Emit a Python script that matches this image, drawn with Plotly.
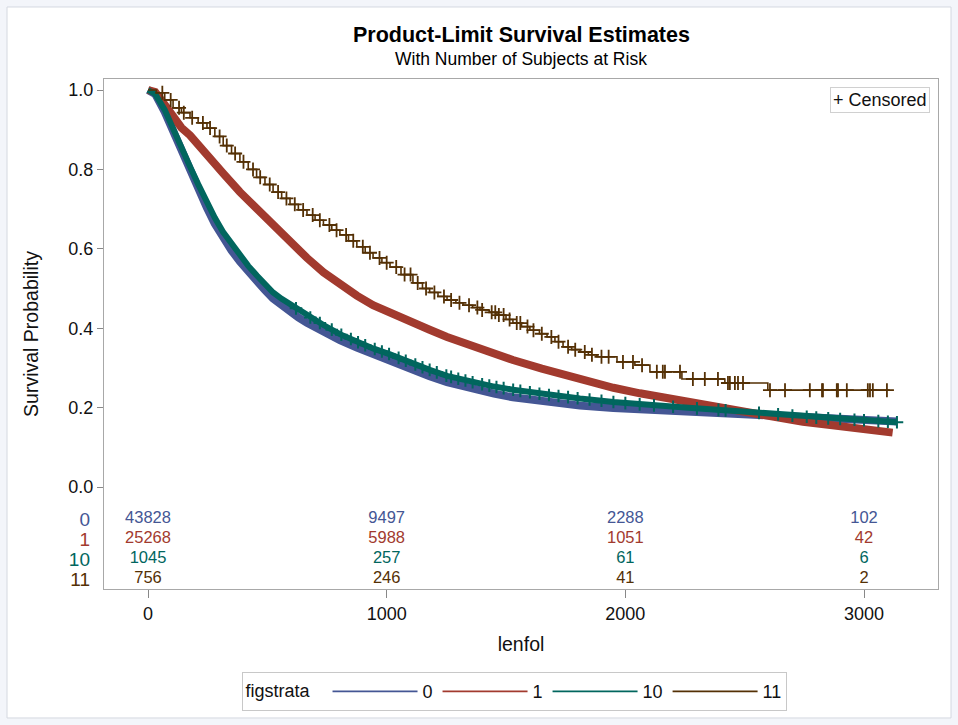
import numpy as np
import plotly.graph_objects as go

# ---------------- data ----------------
strata = ["0", "1", "10", "11"]
colors = ["#445694", "#A23A2E", "#01665E", "#543005"]

t0 = [0, 30, 70, 105, 140, 176, 210, 247, 280, 314, 350, 385, 420, 457, 490, 524, 560, 595,
      630, 666, 735, 804, 875, 943, 1014, 1100, 1180, 1253, 1350, 1450, 1529, 1650, 1810,
      1950, 2061, 2250, 2400, 2600, 2815, 3000, 3138]
s0 = [1.0, 0.99, 0.945, 0.895, 0.845, 0.795, 0.75, 0.703, 0.663, 0.627, 0.596, 0.568, 0.542,
      0.518, 0.496, 0.475, 0.457, 0.441, 0.427, 0.414, 0.391, 0.370, 0.351, 0.334, 0.318,
      0.297, 0.279, 0.264, 0.248, 0.235, 0.226, 0.215, 0.205, 0.199, 0.196, 0.190, 0.186,
      0.179, 0.173, 0.168, 0.165]

t1 = [0, 30, 70, 105, 140, 176, 210, 247, 315, 385, 455, 524, 595, 666, 735, 804, 875, 943,
      1014, 1100, 1180, 1253, 1350, 1450, 1529, 1650, 1810, 1950, 2061, 2250, 2396, 2500,
      2606, 2744, 2850, 2954, 3060, 3120]
s1 = [1.0, 0.995, 0.963, 0.932, 0.905, 0.886, 0.864, 0.841, 0.790, 0.743, 0.700, 0.660, 0.617,
      0.577, 0.541, 0.509, 0.482, 0.458, 0.438, 0.417, 0.396, 0.378, 0.357, 0.336, 0.320,
      0.298, 0.270, 0.250, 0.236, 0.216, 0.202, 0.190, 0.176, 0.164, 0.157, 0.149, 0.142,
      0.137]

t10 = [0, 30, 70, 105, 140, 176, 210, 247, 280, 314, 350, 385, 420, 457, 490, 524, 560, 595,
       630, 666, 735, 804, 875, 943, 1014, 1100, 1180, 1253, 1350, 1450, 1529, 1650, 1810,
       1950, 2061, 2250, 2400, 2600, 2815, 3000, 3138]
s10 = [1.0, 0.99, 0.95, 0.90, 0.855, 0.807, 0.763, 0.717, 0.678, 0.643, 0.612, 0.583, 0.557,
       0.532, 0.510, 0.490, 0.474, 0.460, 0.446, 0.432, 0.408, 0.385, 0.366, 0.349, 0.334,
       0.313, 0.295, 0.280, 0.265, 0.253, 0.245, 0.234, 0.223, 0.214, 0.208, 0.200, 0.194,
       0.185, 0.174, 0.168, 0.163]
c10 = [620, 680, 720, 770, 810, 850, 880, 910, 950, 980, 1010, 1050, 1080, 1120, 1150, 1180,
       1210, 1250, 1270, 1300, 1330, 1360, 1400, 1430, 1460, 1490, 1530, 1560, 1600, 1640,
       1680, 1720, 1760, 1800, 1850, 1900, 1950, 2000, 2060, 2120, 2200, 2300, 2390, 2420,
       2560, 2640, 2700, 2760, 2800, 2850, 2900, 2960, 3000, 3060, 3100, 3138]

t11 = [0, 35, 70, 105, 140, 176, 210, 247, 280, 315, 350, 385, 420, 455, 490, 524, 560, 595,
       630, 666, 700, 735, 770, 804, 840, 875, 910, 943, 980, 1014, 1060, 1110, 1150, 1180,
       1215, 1253, 1290, 1320, 1360, 1391, 1430, 1462, 1500, 1529, 1565, 1600, 1640, 1672,
       1705, 1739, 1775, 1810, 1845, 1881, 1965, 2040, 2103, 2237, 2417, 2597, 3108]
s11 = [1.0, 0.993, 0.975, 0.955, 0.943, 0.930, 0.917, 0.904, 0.883, 0.860, 0.840, 0.819, 0.800,
       0.780, 0.762, 0.743, 0.727, 0.712, 0.698, 0.685, 0.672, 0.660, 0.647, 0.635, 0.620,
       0.605, 0.590, 0.577, 0.565, 0.554, 0.535, 0.514, 0.500, 0.490, 0.480, 0.471, 0.464,
       0.458, 0.452, 0.446, 0.440, 0.433, 0.422, 0.413, 0.404, 0.395, 0.386, 0.378, 0.366,
       0.353, 0.346, 0.340, 0.333, 0.328, 0.315, 0.307, 0.290, 0.272, 0.262, 0.244, 0.244]
c11 = [60, 95, 130, 150, 185, 230, 260, 300, 330, 365, 400, 440, 470, 510, 545, 580, 615, 650,
       690, 720, 760, 790, 830, 860, 900, 930, 970, 1000, 1040, 1075, 1100, 1130, 1165, 1200,
       1240, 1270, 1305, 1345, 1380, 1400, 1440, 1455, 1470, 1490, 1515, 1545, 1560, 1590,
       1615, 1650, 1690, 1720, 1760, 1790, 1830, 1860, 1900, 1930, 1990, 2032, 2070, 2132,
       2157, 2166, 2229, 2283, 2333, 2388, 2430, 2438, 2459, 2472, 2493, 2606, 2669, 2773,
       2824, 2828, 2886, 2891, 2928, 3016, 3025, 3037, 3096]

risk_times = [0, 1000, 2000, 3000]
at_risk = {
    "0": [43828, 9497, 2288, 102],
    "1": [25268, 5988, 1051, 42],
    "10": [1045, 257, 61, 6],
    "11": [756, 246, 41, 2],
}

x_ticks = [0, 1000, 2000, 3000]
y_ticks = [0.0, 0.2, 0.4, 0.6, 0.8, 1.0]

FONT = "Liberation Sans, Arial, sans-serif"

# ---------------- figure ----------------
fig = go.Figure()

curves = [(t0, s0, "linear", 8), (t1, s1, "linear", 8), (t10, s10, "linear", 6), (t11, s11, "hv", 1.6)]
for name, col, (t, s, shape, w) in zip(strata, colors, curves):
    fig.add_trace(go.Scatter(x=t, y=s, mode="lines", line=dict(color=col, width=w, shape=shape),
                             showlegend=False, hoverinfo="skip"))
    if name == "10":
        cy = np.interp(c10, t10, s10)
        fig.add_trace(go.Scatter(x=c10, y=cy, mode="markers", showlegend=False,
                                 marker=dict(symbol="cross-thin", size=9,
                                             line=dict(color=col, width=2))))
    if name == "11":
        idx = np.searchsorted(np.array(t11), np.array(c11), side="right") - 1
        cy = np.array(s11)[idx]
        fig.add_trace(go.Scatter(x=c11, y=cy, mode="markers", showlegend=False,
                                 marker=dict(symbol="cross-thin", size=10,
                                             line=dict(color=col, width=1.8))))

# legend entries (thin lines)
for name, col, (t, s, shape, w) in zip(strata, colors, curves):
    fig.add_trace(go.Scatter(x=t[:1], y=s[:1], mode="lines", name=name,
                             line=dict(color=col, width=1.6), hoverinfo="skip"))

# at-risk table on a categorical overlay axis
for name, col in zip(strata, colors):
    fig.add_trace(go.Scatter(x=risk_times, y=[name] * len(risk_times), yaxis="y2",
                             mode="text", text=[str(v) for v in at_risk[name]],
                             textfont=dict(family=FONT, size=16.5, color=col),
                             showlegend=False, hoverinfo="skip", cliponaxis=False))

row_order = ["11", "10", "1", "0"]
row_col = dict(zip(strata, colors))

fig.update_layout(
    width=958, height=725,
    margin=dict(l=104, r=20, t=79, b=136),
    paper_bgcolor="#f3f5fa", plot_bgcolor="white",
    font=dict(family=FONT, size=18, color="#222"),
    xaxis=dict(range=[-184.4, 3310], tickvals=x_ticks, ticks="outside", ticklen=8,
               tickcolor="#888", showline=True, linecolor="#a8a8a8", linewidth=1.2, mirror=True,
               showgrid=False, zeroline=False,
               tickfont=dict(size=18, color="#111"),
               title=dict(text="lenfol", font=dict(size=19.5, color="#111"), standoff=14)),
    yaxis=dict(range=[-0.2569, 1.0277], tickvals=y_ticks, tickformat=".1f", ticks="outside",
               ticklen=6, tickcolor="#888", showline=True, linecolor="#a8a8a8", linewidth=1.2,
               mirror=True, showgrid=False, zeroline=False,
               tickfont=dict(size=18, color="#111"),
               title=dict(text="Survival Probability", font=dict(size=19.5, color="#111"), standoff=24)),
    yaxis2=dict(overlaying="y", side="left", type="category", categoryorder="array",
                categoryarray=row_order, range=[-0.5, 25.0], tickvals=row_order,
                ticktext=[f"<span style='color:{row_col[r]}'>{r}</span>" for r in row_order],
                tickfont=dict(size=19), ticks="", showgrid=False, zeroline=False,
                showline=False, ticklabelstandoff=13),
    legend=dict(orientation="h", x=0.4928, xanchor="center", y=-0.163, yanchor="top",
                bordercolor="#c8c8c8", borderwidth=1, bgcolor="white",
                font=dict(size=18, color="#111"),
                title=dict(text="figstrata  ", font=dict(size=18, color="#111")),
                itemwidth=85),
    showlegend=True,
)

fig.add_shape(type="rect", xref="paper", yref="paper", x0=-0.1163, x1=1.0156, y0=-0.2529, y1=1.1412,
              fillcolor="white", line=dict(color="#d4d8e0", width=1), layer="below")

fig.add_annotation(xref="paper", yref="paper", x=0.5, y=1.0863, yanchor="middle", showarrow=False,
                   text="<b>Product-Limit Survival Estimates</b>", font=dict(size=21.5, color="#000"))
fig.add_annotation(xref="paper", yref="paper", x=0.5, y=1.0392, yanchor="middle", showarrow=False,
                   text="With Number of Subjects at Risk", font=dict(size=17.5, color="#000"))
fig.add_annotation(xref="paper", yref="paper", x=0.9904, y=0.9843, xanchor="right", yanchor="top",
                   showarrow=False, text="+ Censored", font=dict(size=18, color="#111"),
                   bordercolor="#d0d0d0", borderwidth=1, borderpad=2, bgcolor="white")

fig.write_html("out.html", config={"displayModeBar": False},
               post_script="document.body.style.margin='0';document.body.style.background='#f3f5fa';")
